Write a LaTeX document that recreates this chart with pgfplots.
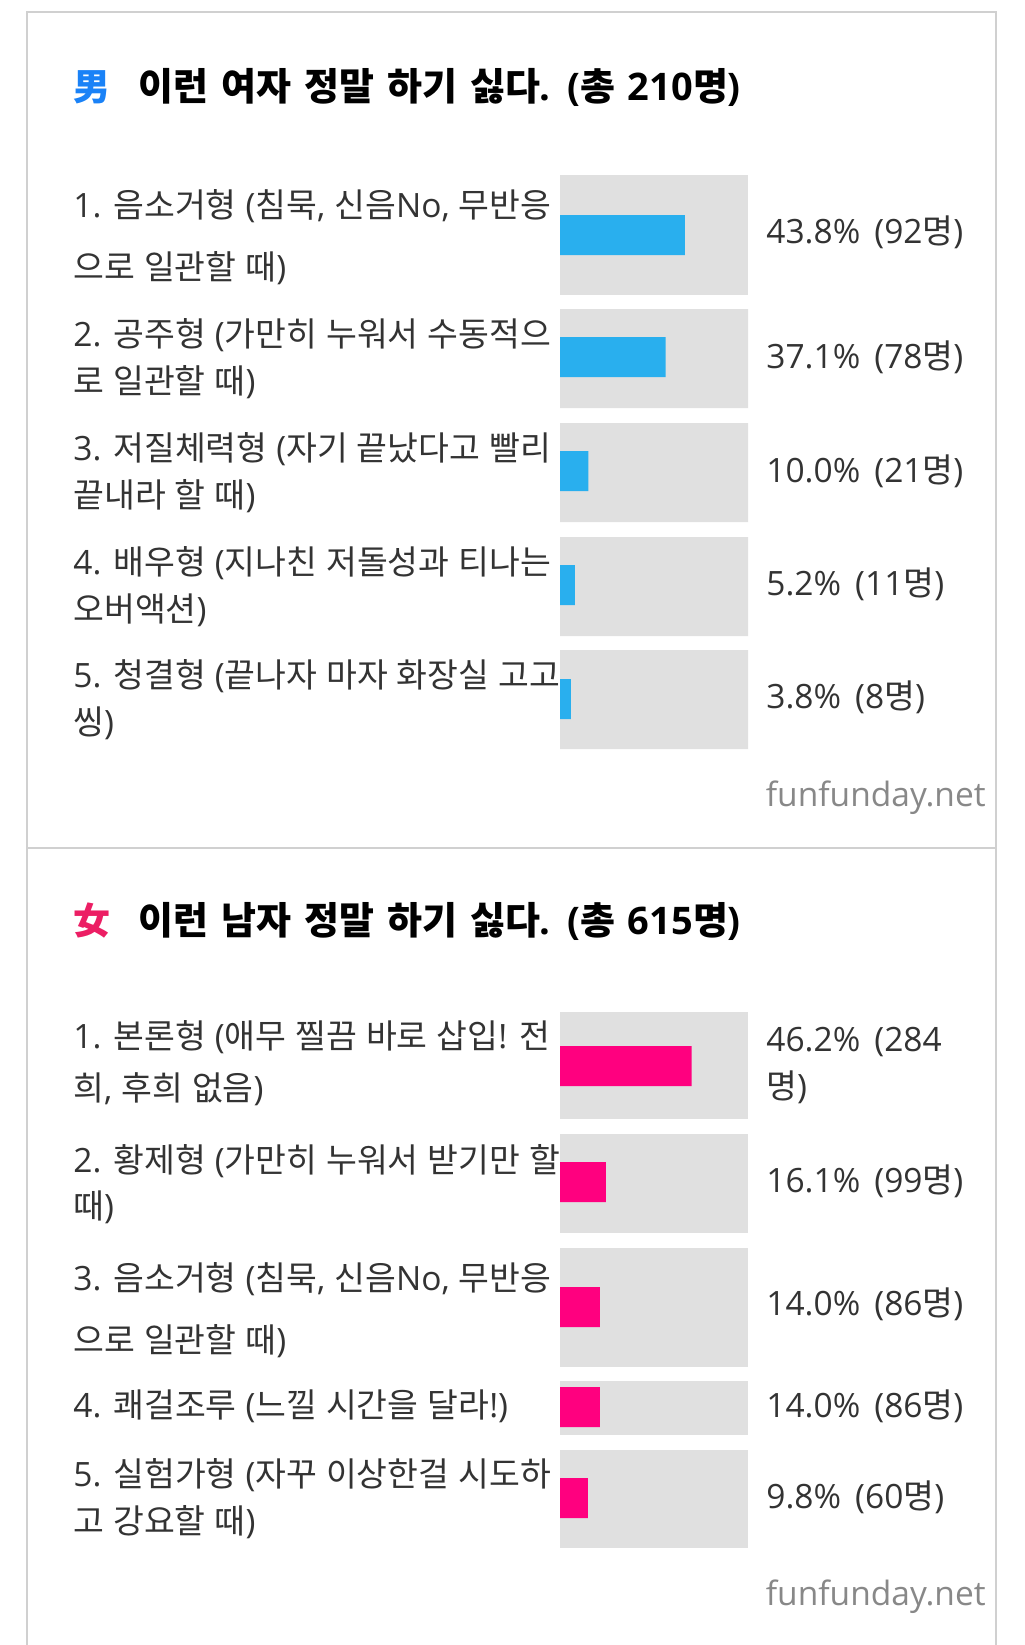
\documentclass[border=0pt]{standalone}
\usepackage{pgfplots}
\pgfplotsset{compat=1.18}
\usepackage{fontspec}
\setmainfont{Open Sans}
\newfontfamily\latfont{Open Sans}
\newfontfamily\krfont{Noto Sans CJK KR}[Scale=1.0]

\XeTeXinterchartokenstate=1
\newXeTeXintercharclass\krclass
\newcount\hcnt
\hcnt="AC00
\loop \XeTeXcharclass\hcnt=\krclass \advance\hcnt by 1 \ifnum\hcnt<"D7A4 \repeat
\XeTeXcharclass"7537=\krclass
\XeTeXcharclass"5973=\krclass
\XeTeXinterchartoks 0 \krclass = {\krfont}
\XeTeXinterchartoks 4095 \krclass = {\krfont}
\XeTeXinterchartoks \krclass 0 = {\latfont}
\XeTeXinterchartoks \krclass 4095 = {\latfont}

\definecolor{bgbar}{RGB}{224,224,224}
\definecolor{mbar}{RGB}{41,175,238}
\definecolor{fbar}{RGB}{255,0,127}
\definecolor{mblue}{RGB}{26,130,247}
\definecolor{fpink}{RGB}{236,30,100}
\definecolor{txt}{RGB}{51,51,51}
\definecolor{wm}{RGB}{136,136,136}
\definecolor{border}{RGB}{208,208,208}

\newcommand\bodyfont{\fontsize{16.75}{20}\selectfont\spaceskip=4.5pt plus 1pt minus 1pt\relax}
\newcommand\titlefont{\fontsize{19}{23}\selectfont\bfseries\spaceskip=6.5pt plus 1pt minus 1pt\relax}

\begin{document}
\begin{tikzpicture}
\begin{scope}[x=0.5pt,y=-0.5pt]
\useasboundingbox (0,0) rectangle (1024,1645);
\fill[white] (0,0) rectangle (1024,1645);
\draw[border, line width=1pt] (27,1645) -- (27,12) -- (996,12) -- (996,1645);
\draw[border, line width=1pt] (27,848) -- (996,848);

% titles
\node[anchor=base west, inner sep=0, font=\fontsize{18.5}{24}\selectfont\bfseries, text=mblue] at (73,100) {男};
\node[anchor=base west, inner sep=0, font=\titlefont, text=black] at (138,100) {이런 여자 정말 하기 싫다. (총 210명)};
\node[anchor=base west, inner sep=0, font=\fontsize{18.5}{24}\selectfont\bfseries, text=fpink] at (73,934) {女};
\node[anchor=base west, inner sep=0, font=\titlefont, text=black] at (138,934) {이런 남자 정말 하기 싫다. (총 615명)};

\tikzset{lab/.style={anchor=base west, inner sep=0, font=\bodyfont, text=txt}}
% male labels
\node[lab] at (73,217) {1. 음소거형 (침묵, 신음No, 무반응};
\node[lab] at (73,279) {으로 일관할 때)};
\node[lab] at (73,346) {2. 공주형 (가만히 누워서 수동적으};
\node[lab] at (73,393) {로 일관할 때)};
\node[lab] at (73,460) {3. 저질체력형 (자기 끝났다고 빨리};
\node[lab] at (73,507) {끝내라 할 때)};
\node[lab] at (73,574) {4. 배우형 (지나친 저돌성과 티나는};
\node[lab] at (73,621) {오버액션)};
\node[lab] at (73,687) {5. 청결형 (끝나자 마자 화장실 고고};
\node[lab] at (73,734) {씽)};
\node[lab] at (766,243) {43.8\%\hspace{2.5pt} (92명)};
\node[lab] at (766,368) {37.1\%\hspace{2.5pt} (78명)};
\node[lab] at (766,482) {10.0\%\hspace{2.5pt} (21명)};
\node[lab] at (766,595) {5.2\%\hspace{2.5pt} (11명)};
\node[lab] at (766,708) {3.8\%\hspace{2.5pt} (8명)};
\node[anchor=base east, inner sep=0, font=\bodyfont, text=wm] at (986,806) {funfunday.net};

% female labels
\node[lab] at (73,1048) {1. 본론형 (애무 찔끔 바로 삽입! 전};
\node[lab] at (73,1100) {희, 후희 없음)};
\node[lab] at (73,1172) {2. 황제형 (가만히 누워서 받기만 할};
\node[lab] at (73,1218) {때)};
\node[lab] at (73,1290) {3. 음소거형 (침묵, 신음No, 무반응};
\node[lab] at (73,1352) {으로 일관할 때)};
\node[lab] at (73,1417) {4. 쾌걸조루 (느낄 시간을 달라!)};
\node[lab] at (73,1486) {5. 실험가형 (자꾸 이상한걸 시도하};
\node[lab] at (73,1533) {고 강요할 때)};
\node[lab] at (766,1051) {46.2\%\hspace{2.5pt} (284};
\node[lab] at (766,1098) {명)};
\node[lab] at (766,1192) {16.1\%\hspace{2.5pt} (99명)};
\node[lab] at (766,1315) {14.0\%\hspace{2.5pt} (86명)};
\node[lab] at (766,1417) {14.0\%\hspace{2.5pt} (86명)};
\node[lab] at (766,1508) {9.8\%\hspace{2.5pt} (60명)};
\node[anchor=base east, inner sep=0, font=\bodyfont, text=wm] at (986,1605) {funfunday.net};
\end{scope}

\begin{axis}[at={(280pt,-87.5pt)}, anchor=north west, scale only axis,
  width=94pt, height=686.5pt, xmin=0, xmax=66, ymin=175, ymax=1548,
  y dir=reverse, hide axis, clip=false, enlargelimits=false]
% grey tracks (full scale)
\addplot[xbar, bar shift=0pt, bar width=120, fill=bgbar, draw=none] coordinates {(66,235)};
\addplot[xbar, bar shift=0pt, bar width=99, fill=bgbar, draw=none] coordinates {(66,358.5) (66,472.5) (66,586.5) (66,699.5)};
\addplot[xbar, bar shift=0pt, bar width=107, fill=bgbar, draw=none] coordinates {(66,1065.5)};
\addplot[xbar, bar shift=0pt, bar width=99, fill=bgbar, draw=none] coordinates {(66,1183.5)};
\addplot[xbar, bar shift=0pt, bar width=119, fill=bgbar, draw=none] coordinates {(66,1307.5)};
\addplot[xbar, bar shift=0pt, bar width=54, fill=bgbar, draw=none] coordinates {(66,1408)};
\addplot[xbar, bar shift=0pt, bar width=98, fill=bgbar, draw=none] coordinates {(66,1499)};
% male
\addplot[xbar, bar shift=0pt, bar width=40, fill=mbar, draw=none] coordinates {(43.8,235) (37.1,357) (10.0,471) (5.2,585) (3.8,699)};
% female
\addplot[xbar, bar shift=0pt, bar width=40, fill=fbar, draw=none] coordinates {(46.2,1066) (16.1,1182) (14.0,1307) (14.0,1407) (9.8,1498)};
\end{axis}
\end{tikzpicture}
\end{document}
